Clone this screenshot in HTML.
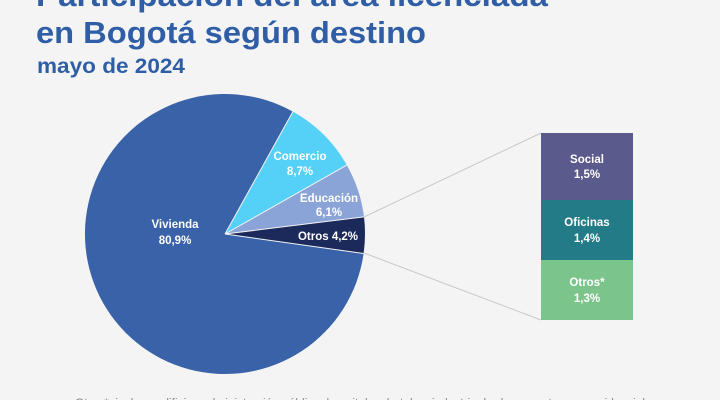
<!DOCTYPE html>
<html><head><meta charset="utf-8"><style>
html,body{margin:0;padding:0;background:#f4f4f4;width:720px;height:400px;overflow:hidden;font-family:"Liberation Sans",sans-serif}
</style></head><body>
<svg width="720" height="400" viewBox="0 0 720 400" xmlns="http://www.w3.org/2000/svg" font-family="Liberation Sans, sans-serif">
<rect width="720" height="400" fill="#f4f4f4"/>
<text x="36" y="6" font-size="31" font-weight="bold" fill="#2f5ea6" textLength="512" lengthAdjust="spacingAndGlyphs">Participación del área licenciada</text>
<text x="36" y="43" font-size="31" font-weight="bold" fill="#2f5ea6" textLength="390" lengthAdjust="spacingAndGlyphs">en Bogotá según destino</text>
<text x="37" y="73" font-size="21" font-weight="bold" fill="#2f5ea6" textLength="148" lengthAdjust="spacingAndGlyphs">mayo de 2024</text>
<path d="M225,234 L363.6,253.5 A140,140 0 1 1 292.9,111.6 Z" fill="#3a62a8"/>
<path d="M225,234 L292.9,111.6 A140,140 0 0 1 346.8,165.1 Z" fill="#55d0f6"/>
<path d="M225,234 L346.8,165.1 A140,140 0 0 1 364,216.9 Z" fill="#8aa4d8"/>
<path d="M225,234 L364,216.9 A140,140 0 0 1 363.6,253.5 Z" fill="#1b2a5a"/>
<g stroke="#f4f4f4" stroke-width="1" fill="none"><path d="M225,234 L292.9,111.6 M225,234 L346.8,165.1 M225,234 L364,216.9 M225,234 L363.6,253.5"/></g>
<line x1="364" y1="217" x2="541" y2="133" stroke="#c8c8c8" stroke-width="1"/>
<line x1="364" y1="253" x2="541" y2="320" stroke="#c8c8c8" stroke-width="1"/>
<g font-weight="bold" fill="#fff" font-size="11.5" text-anchor="middle">
<text x="175" y="228">Vivienda</text><text x="175" y="244">80,9%</text>
<text x="300" y="160">Comercio</text><text x="300" y="175">8,7%</text>
<text x="329" y="202">Educación</text><text x="329" y="216">6,1%</text>
<text x="328" y="240">Otros 4,2%</text>
</g>
<rect x="541" y="133" width="92" height="67" fill="#5a5a8c"/>
<rect x="541" y="200" width="92" height="60" fill="#237b88"/>
<rect x="541" y="260" width="92" height="60" fill="#7bc58c"/>
<g font-weight="bold" fill="#fff" font-size="11.5" text-anchor="middle">
<text x="587" y="163">Social</text><text x="587" y="178">1,5%</text>
<text x="587" y="226">Oficinas</text><text x="587" y="242">1,4%</text>
<text x="587" y="286">Otros*</text><text x="587" y="302">1,3%</text>
</g>
<text x="75" y="406" font-size="11" fill="#888" textLength="570" lengthAdjust="spacingAndGlyphs">Otros*: incluye edificios administración pública, hospitales, hoteles, industria, bodegas y otros no residencial</text>
</svg>
</body></html>
